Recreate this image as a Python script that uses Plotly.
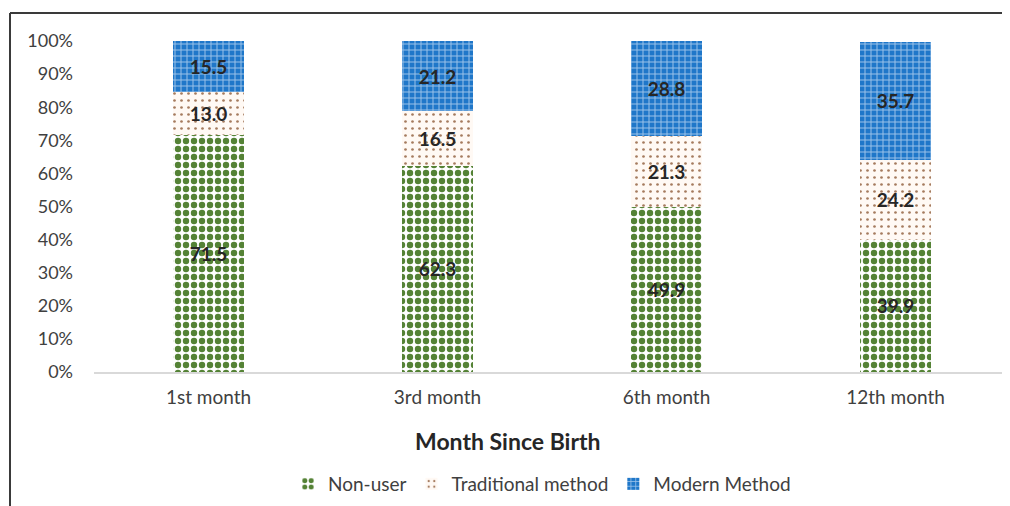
import plotly.graph_objects as go

categories = ["1st month", "3rd month", "6th month", "12th month"]
non_user = [71.5, 62.3, 49.9, 39.9]
traditional = [13.0, 16.5, 21.3, 24.2]
modern = [15.5, 21.2, 28.8, 35.7]
tick_vals = [0, 0.1, 0.2, 0.3, 0.4, 0.5, 0.6, 0.7, 0.8, 0.9, 1.0]
tick_text = ["0%", "10%", "20%", "30%", "40%", "50%", "60%", "70%", "80%", "90%", "100%"]

FONT = "Lato"
label_font = dict(family=FONT, size=19, color="#262626", weight="bold")

def frac(vals):
    return [v / 100 for v in vals]

fig = go.Figure()
fig.add_trace(go.Bar(
    name="Non-user", x=categories, y=frac(non_user),
    text=[f"{v:.1f}" for v in non_user], textposition="inside",
    insidetextanchor="middle", textfont=label_font, textangle=0,
    marker=dict(color="white", line=dict(width=0),
                pattern=dict(shape=".", fgcolor="#548235", bgcolor="white",
                             size=8, solidity=0.5, fgopacity=1, fillmode="overlay")),
))
fig.add_trace(go.Bar(
    name="Traditional method", x=categories, y=frac(traditional),
    text=[f"{v:.1f}" for v in traditional], textposition="inside",
    insidetextanchor="middle", textfont=label_font, textangle=0,
    marker=dict(color="white", line=dict(width=0),
                pattern=dict(shape=".", fgcolor="#A57B5E", bgcolor="#FFF9F4",
                             size=7, solidity=0.12, fgopacity=1, fillmode="overlay")),
))
fig.add_trace(go.Bar(
    name="Modern Method", x=categories, y=frac(modern),
    text=[f"{v:.1f}" for v in modern], textposition="inside",
    insidetextanchor="middle", textfont=label_font, textangle=0,
    marker=dict(color="#1F77C9", line=dict(width=0),
                pattern=dict(shape="+", fgcolor="#9CC3EA", bgcolor="#1F77C9",
                             size=6, solidity=0.3, fgopacity=1, fillmode="overlay")),
))

# page body has an 8px margin; all pixel positions below are page pixels
OFF = 8
W, H = 1010 - OFF, 506 - OFF
L, R, T, B = 94 - OFF, 0, 41 - OFF, 506 - 372
pw, ph = W - L - R, H - T - B

def px_x(x):
    return (x - OFF - L) / pw

def px_y(y):
    return 1 - (y - OFF - T) / ph

fig.update_layout(
    width=W, height=H,
    barmode="stack", bargap=0.69,
    plot_bgcolor="white", paper_bgcolor="white",
    margin=dict(l=L, r=R, t=T, b=B, autoexpand=False),
    font=dict(family=FONT, size=17, color="#595959"),
    showlegend=True,
    legend=dict(orientation="h", x=px_x(542), xanchor="center",
                y=px_y(484), yanchor="middle", traceorder="normal",
                font=dict(family=FONT, size=19, color="#404040"),
                itemwidth=30, tracegroupgap=0),
    annotations=[dict(text="<b>Month Since Birth</b>", xref="paper", yref="paper",
                      x=px_x(508), y=px_y(441), xanchor="center", yanchor="middle",
                      showarrow=False, font=dict(family=FONT, size=23, color="#262626"))],
    shapes=[
        dict(type="line", xref="paper", yref="paper", x0=px_x(10), x1=px_x(1012),
             y0=px_y(13), y1=px_y(13), line=dict(color="#3A3A3A", width=2)),
        dict(type="line", xref="paper", yref="paper", x0=px_x(10), x1=px_x(10),
             y0=px_y(13), y1=px_y(508), line=dict(color="#3A3A3A", width=2)),
    ],
)
fig.update_xaxes(showgrid=False, showline=True, linecolor="#D9D9D9", linewidth=1.5,
                 ticks="", tickfont=dict(family=FONT, size=19, color="#404040"),
                 ticklabelstandoff=7, fixedrange=True)
fig.update_yaxes(range=[0, 1], tickvals=tick_vals, ticktext=tick_text, showgrid=False,
                 zeroline=False, showline=False, ticks="",
                 tickfont=dict(family=FONT, size=18, color="#404040"),
                 ticklabelstandoff=20, fixedrange=True)

fig.write_html("out.html")
